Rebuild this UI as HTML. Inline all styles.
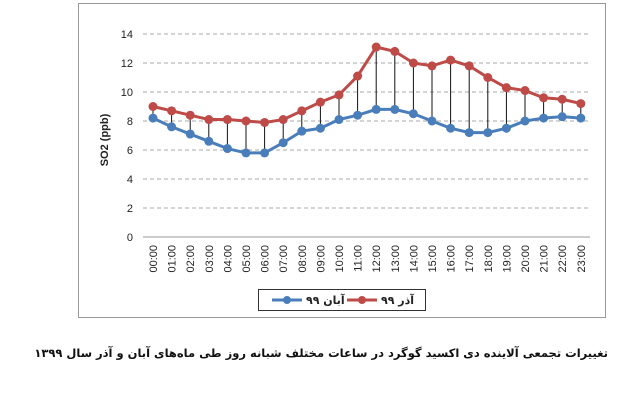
<!DOCTYPE html>
<html><head><meta charset="utf-8"><style>body{margin:0;background:#fff;width:640px;height:403px;overflow:hidden}</style></head><body>
<svg width="640" height="403" xmlns="http://www.w3.org/2000/svg" font-family="Liberation Sans, sans-serif">
<rect x="78.5" y="3.5" width="527" height="314" fill="#fff" stroke="#999" stroke-width="1"/>
<g id="g"></g>
<text x="0" y="0" transform="translate(108,140) rotate(-90)" text-anchor="middle" font-size="11" font-weight="bold" fill="#222">SO2 (ppb)</text>
<rect x="258.5" y="289.5" width="167" height="21" fill="#fff" stroke="#333"/>
<line x1="272" y1="300" x2="302" y2="300" stroke="#4a7ebb" stroke-width="3"/><circle cx="287" cy="300" r="4" fill="#4a7ebb"/>
<text x="306" y="304" font-size="11" font-weight="bold" fill="#222" font-family="DejaVu Sans, sans-serif">آبان ۹۹</text>
<line x1="347" y1="300" x2="377" y2="300" stroke="#be4b48" stroke-width="3"/><circle cx="362" cy="300" r="4" fill="#be4b48"/>
<text x="381" y="304" font-size="11" font-weight="bold" fill="#222" font-family="DejaVu Sans, sans-serif">آذر ۹۹</text>
<text x="608" y="357" text-anchor="start" direction="rtl" font-size="11.5" font-weight="bold" fill="#111" font-family="DejaVu Sans, sans-serif">تغییرات تجمعی آلاینده دی اکسید گوگرد در ساعات مختلف شبانه روز طی ماه‌های آبان و آذر سال ۱۳۹۹</text>
</svg>
<script>
var b=[8.2,7.6,7.1,6.6,6.1,5.8,5.8,6.5,7.3,7.5,8.1,8.4,8.8,8.8,8.5,8.0,7.5,7.2,7.2,7.5,8.0,8.2,8.3,8.2];
var r=[9.0,8.7,8.4,8.1,8.1,8.0,7.9,8.1,8.7,9.3,9.8,11.1,13.1,12.8,12.0,11.8,12.2,11.8,11.0,10.3,10.1,9.6,9.5,9.2];
function X(i){return 153+18.6*i}function Y(v){return 237-14.5*v}
var s='';
for(var v=0;v<=14;v+=2){var y=Y(v);
 if(v>0)s+='<line x1="143" y1="'+y+'" x2="590" y2="'+y+'" stroke="#aaa" stroke-dasharray="4,3"/>';
 s+='<text x="133" y="'+(y+4)+'" text-anchor="end" font-size="11" fill="#222">'+v+'</text>';}
s+='<line x1="143" y1="237" x2="590" y2="237" stroke="#999"/>';
for(var i=0;i<24;i++){s+='<line x1="'+X(i)+'" y1="'+Y(r[i])+'" x2="'+X(i)+'" y2="'+Y(b[i])+'" stroke="#111" stroke-width="1"/>';
 var h=(i<10?'0':'')+i+':00';
 s+='<text transform="translate('+(X(i)+4)+',245) rotate(-90)" text-anchor="end" font-size="11" fill="#222">'+h+'</text>';}
function ser(d,c){var p=d.map(function(v,i){return X(i)+','+Y(v)}).join(' ');
 var t='<polyline points="'+p+'" fill="none" stroke="'+c+'" stroke-width="3"/>';
 d.forEach(function(v,i){t+='<circle cx="'+X(i)+'" cy="'+Y(v)+'" r="4.5" fill="'+c+'"/>'});return t;}
s+=ser(b,'#4a7ebb')+ser(r,'#be4b48');
document.getElementById('g').innerHTML=s;
</script>
</body></html>
